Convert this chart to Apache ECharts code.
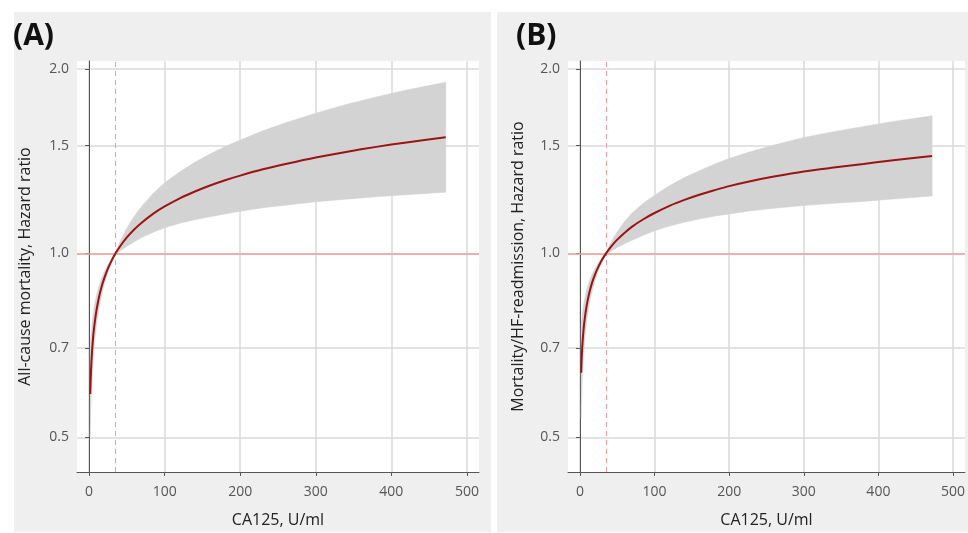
<!DOCTYPE html>
<html>
<head>
<meta charset="utf-8">
<script src="https://cdn.jsdelivr.net/npm/echarts@6/dist/echarts.min.js"></script>
<style>
  html, body { margin: 0; padding: 0; background: #fff; }
  #chart { width: 968px; height: 533px; }
</style>
</head>
<body>
<div id="chart"></div>
<script>
// Panel A: all-cause mortality
const xA = [1.5, 2, 3, 4, 5, 6, 8, 10, 13, 16, 20, 25, 30, 35, 42, 50, 60, 70, 85, 100, 120, 140, 160, 180, 200, 230, 260, 300, 340, 380, 420, 472];
const hrA = [0.589, 0.618, 0.662, 0.695, 0.721, 0.744, 0.78, 0.81, 0.847, 0.877, 0.91, 0.945, 0.974, 1.0, 1.031, 1.062, 1.095, 1.123, 1.161, 1.193, 1.23, 1.262, 1.291, 1.317, 1.34, 1.372, 1.4, 1.435, 1.465, 1.493, 1.518, 1.548];
const upA = [0.691, 0.715, 0.746, 0.772, 0.789, 0.806, 0.833, 0.856, 0.884, 0.907, 0.932, 0.959, 0.982, 1.005, 1.052, 1.1, 1.151, 1.195, 1.254, 1.304, 1.359, 1.409, 1.454, 1.495, 1.532, 1.586, 1.635, 1.695, 1.751, 1.802, 1.849, 1.904];
const loA = [0.502, 0.535, 0.587, 0.626, 0.659, 0.687, 0.731, 0.767, 0.811, 0.847, 0.889, 0.931, 0.967, 0.995, 1.011, 1.027, 1.045, 1.062, 1.083, 1.101, 1.12, 1.135, 1.148, 1.16, 1.172, 1.187, 1.199, 1.214, 1.226, 1.237, 1.247, 1.259];

// Panel B: mortality / HF readmission
const xB = [1.7, 2, 3, 4, 5, 6, 8, 10, 13, 16, 20, 25, 30, 35, 42, 50, 60, 70, 85, 100, 120, 140, 160, 180, 200, 230, 260, 300, 340, 380, 420, 472];
const hrB = [0.638, 0.66, 0.7, 0.73, 0.754, 0.774, 0.807, 0.834, 0.866, 0.893, 0.922, 0.952, 0.978, 1.0, 1.027, 1.053, 1.081, 1.106, 1.137, 1.164, 1.196, 1.223, 1.247, 1.268, 1.288, 1.313, 1.335, 1.361, 1.381, 1.4, 1.42, 1.443];
const upB = [0.757, 0.771, 0.794, 0.811, 0.825, 0.839, 0.862, 0.88, 0.903, 0.923, 0.943, 0.966, 0.986, 1.005, 1.045, 1.085, 1.128, 1.164, 1.208, 1.245, 1.29, 1.33, 1.365, 1.399, 1.429, 1.468, 1.503, 1.547, 1.581, 1.612, 1.643, 1.678];
const loB = [0.538, 0.566, 0.618, 0.657, 0.689, 0.715, 0.757, 0.79, 0.831, 0.864, 0.901, 0.939, 0.97, 0.995, 1.008, 1.022, 1.037, 1.051, 1.071, 1.089, 1.108, 1.124, 1.138, 1.15, 1.16, 1.174, 1.185, 1.197, 1.207, 1.216, 1.227, 1.241];

const yTicks = [0.5, 0.7, 1.0, 1.5, 2.0];
const xTicks = [0, 100, 200, 300, 400, 500];
const cutoff = 35;
const refHR = 1.0;

const FONT = 'Open Sans';
const ln = Math.log;
const X_MIN = -16;
const X_MAX = 516;

const chart = echarts.init(document.getElementById('chart'));

// hazard ratios go on a log scale, so the y values are ln(HR)
const toPairs = (xs, ys) => xs.map((x, i) => [x, ln(ys[i])]);

const xAxisFor = (gi) => ({
  type: 'value',
  gridIndex: gi,
  min: X_MIN,
  max: X_MAX,
  name: 'CA125, U/ml',
  nameLocation: 'middle',
  nameGap: 40,
  nameTextStyle: { fontFamily: FONT, fontSize: 16, color: '#222' },
  axisLine: { show: true, onZero: false, lineStyle: { color: '#555', width: 1 } },
  axisTick: { show: true, length: 4, customValues: xTicks, lineStyle: { color: '#555' } },
  axisLabel: { customValues: xTicks, margin: 13, fontFamily: FONT, fontSize: 14, color: '#555' },
  splitLine: { show: true, lineStyle: { color: '#dadada', width: 1.5 } },
});

const yAxisFor = (gi, title, gap) => ({
  type: 'value',
  gridIndex: gi,
  min: -0.823,
  max: 0.724,
  name: title,
  nameLocation: 'middle',
  nameGap: gap,
  nameTextStyle: { fontFamily: FONT, fontSize: 16, color: '#222' },
  axisLine: { show: true, lineStyle: { color: '#555', width: 1 } },
  axisTick: { show: true, length: 4, customValues: yTicks.map(ln), lineStyle: { color: '#555' } },
  axisLabel: {
    customValues: yTicks.map(ln),
    margin: 8,
    fontFamily: FONT,
    fontSize: 14,
    color: '#555',
    formatter: (v) => Math.exp(v).toFixed(1),
  },
  splitLine: { show: true, lineStyle: { color: '#dadada', width: 1.5 } },
});

// confidence band: one polygon, upper edge forward then lower edge back
const bandSeries = (gi, xs, lo, up) => ({
  type: 'custom',
  xAxisIndex: gi,
  yAxisIndex: gi,
  silent: true,
  clip: true,
  z: 2,
  data: [[xs[0], ln(lo[0])]],
  renderItem: (params, api) => {
    const pts = [];
    for (let i = 0; i < xs.length; i++) pts.push(api.coord([xs[i], ln(up[i])]));
    for (let i = xs.length - 1; i >= 0; i--) pts.push(api.coord([xs[i], ln(lo[i])]));
    return {
      type: 'polygon',
      shape: { points: pts },
      style: { fill: '#d3d3d3', stroke: '#d3d3d3', lineWidth: 0.5 },
    };
  },
});

const panelSeries = (gi, xs, hr, lo, up) => [
  bandSeries(gi, xs, lo, up),
  {
    type: 'line',
    xAxisIndex: gi,
    yAxisIndex: gi,
    data: toPairs(xs, hr),
    symbol: 'none',
    smooth: 0.25,
    lineStyle: { color: '#9a1414', width: 2 },
    z: 5,
  },
  {
    type: 'line',
    xAxisIndex: gi,
    yAxisIndex: gi,
    data: [],
    silent: true,
    z: 4,
    markLine: {
      silent: true,
      symbol: 'none',
      label: { show: false },
      data: [
        [
          { coord: [X_MIN, ln(refHR)], lineStyle: { color: '#f2a097', width: 1.5, type: 'solid' } },
          { coord: [X_MAX, ln(refHR)] },
        ],
        { xAxis: cutoff, lineStyle: { color: '#f09c9c', width: 1, type: [5, 4] } },
      ],
    },
  },
];

const option = {
  animation: false,
  backgroundColor: '#fff',
  graphic: [
    { type: 'rect', left: 14, top: 12, shape: { width: 477, height: 520 }, style: { fill: '#efefef' }, z: -10 },
    { type: 'rect', left: 497, top: 12, shape: { width: 471, height: 520 }, style: { fill: '#efefef' }, z: -10 },
    { type: 'text', left: 13, top: 21, style: { text: '(A)', font: 'bold 30px "Open Sans"', fill: '#111' } },
    { type: 'text', left: 516, top: 21, style: { text: '(B)', font: 'bold 30px "Open Sans"', fill: '#111' } },
  ],
  grid: [
    { left: 77, top: 61, width: 402, height: 416, show: true, backgroundColor: '#fff', borderWidth: 0 },
    { left: 568, top: 61, width: 402, height: 416, show: true, backgroundColor: '#fff', borderWidth: 0 },
  ],
  xAxis: [xAxisFor(0), xAxisFor(1)],
  yAxis: [
    yAxisFor(0, 'All-cause mortality, Hazard ratio', 44),
    yAxisFor(1, 'Mortality/HF-readmission, Hazard ratio', 42),
  ],
  series: [
    ...panelSeries(0, xA, hrA, loA, upA),
    ...panelSeries(1, xB, hrB, loB, upB),
  ],
};

chart.setOption(option);

window.addEventListener('resize', function () {
  chart.resize();
});
</script>
</body>
</html>
